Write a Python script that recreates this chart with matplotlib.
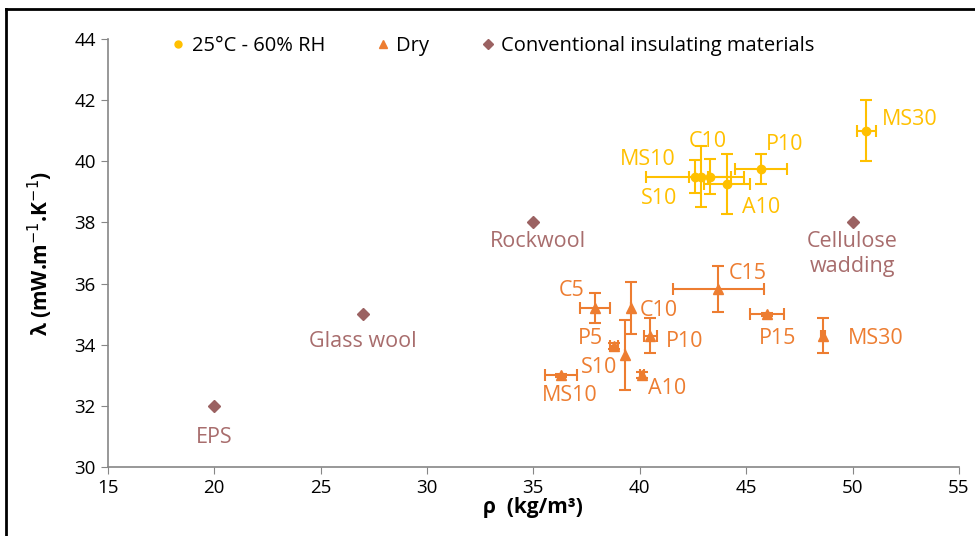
import matplotlib.pyplot as plt
from matplotlib.lines import Line2D

plt.rcParams['font.family'] = ['Open Sans', 'DejaVu Sans']

# 25°C - 60% RH
hum_names = ['MS10', 'C10', 'S10', 'A10', 'P10', 'MS30']
hum_x = [42.6, 42.9, 43.3, 44.1, 45.7, 50.65]
hum_y = [39.5, 39.5, 39.5, 39.26, 39.75, 41.0]
hum_xerr = [2.3, 0.3, 1.0, 1.1, 1.2, 0.45]
hum_yerr = [0.55, 1.0, 0.57, 0.98, 0.49, 1.0]

# Dry
dry_names = ['C5', 'C10', 'P10', 'P5', 'S10', 'MS10', 'A10', 'C15', 'P15', 'MS30']
dry_x = [37.9, 39.6, 40.5, 38.8, 39.3, 36.3, 40.1, 43.7, 46.0, 48.6]
dry_y = [35.2, 35.2, 34.3, 33.95, 33.67, 33.0, 33.0, 35.83, 35.0, 34.3]
dry_xerr = [0.7, 0.0, 0.3, 0.2, 0.0, 0.75, 0.1, 2.15, 0.8, 0.1]
dry_yerr = [0.5, 0.85, 0.58, 0.1, 1.15, 0.05, 0.1, 0.75, 0.05, 0.58]

# conventional materials
conv_names = ['EPS', 'Glass wool', 'Rockwool', 'Cellulose\nwadding']
conv_x = [20, 27, 35, 50]
conv_y = [32, 35, 38, 38]

# label positions (data coords)
hum_lab = [(40.4, 40.05), (43.2, 40.64), (40.9, 38.78), (45.7, 38.49), (46.8, 40.54), (52.7, 41.36)]
dry_lab = [(36.8, 35.78), (40.9, 35.13), (42.1, 34.12), (37.7, 34.19), (38.1, 33.24),
           (36.7, 32.33), (41.3, 32.56), (45.1, 36.34), (46.5, 34.22), (51.1, 34.22)]
conv_lab = [(20.0, 30.96), (27.0, 34.09), (35.2, 37.38), (50.0, 36.98)]

c_hum = '#FFC000'
c_dry = '#ED7D31'
c_conv = '#9B6262'
c_conv_txt = '#A86D6D'

fig = plt.figure(figsize=(9.75, 5.36), dpi=100)
ax = fig.add_axes([0.1105, 0.1287, 0.873, 0.7985])

ax.errorbar(hum_x, hum_y, xerr=hum_xerr, yerr=hum_yerr, fmt='o', color=c_hum,
            ms=6, elinewidth=1.5, capsize=4, capthick=1.5)
ax.errorbar(dry_x, dry_y, xerr=dry_xerr, yerr=dry_yerr, fmt='^', color=c_dry,
            ms=7, elinewidth=1.5, capsize=4, capthick=1.5)
ax.plot(conv_x, conv_y, 'D', color=c_conv, ms=6)

for n, (tx, ty) in zip(hum_names, hum_lab):
    ax.text(tx, ty, n, color=c_hum, fontsize=15.5, ha='center', va='center')
for n, (tx, ty) in zip(dry_names, dry_lab):
    ax.text(tx, ty, n, color=c_dry, fontsize=15.5, ha='center', va='center')
for n, (tx, ty) in zip(conv_names, conv_lab):
    ax.text(tx, ty, n, color=c_conv_txt, fontsize=15.5, ha='center', va='center', linespacing=1.25)

ax.set_xlim(15, 55)
ax.set_ylim(30, 44)
ax.set_xticks(range(15, 56, 5))
ax.set_yticks(range(30, 45, 2))
ax.tick_params(direction='out', length=5, color='#868686', labelsize=13.5)
for s in ['top', 'right']:
    ax.spines[s].set_visible(False)
for s in ['left', 'bottom']:
    ax.spines[s].set_color('#868686')
    ax.spines[s].set_linewidth(1.2)

ax.set_xlabel('ρ  (kg/m³)', fontsize=15, fontweight='bold', labelpad=0)
ax.set_ylabel('λ (mW.m$^{-1}$.K$^{-1}$)', fontsize=15, fontweight='bold', labelpad=14)

handles = [Line2D([], [], marker='o', ls='', color=c_hum, ms=5),
           Line2D([], [], marker='^', ls='', color=c_dry, ms=6),
           Line2D([], [], marker='D', ls='', color=c_conv, ms=5)]
ax.legend(handles, ['25°C - 60% RH', 'Dry', 'Conventional insulating materials'],
          loc='upper left', bbox_to_anchor=(0.05, 1.05), ncol=3, frameon=False,
          fontsize=14.5, handletextpad=0.15, columnspacing=2.4, handlelength=1.0)

# black frame of the screenshot
fig.add_artist(Line2D([0.006, 0.006], [0.0, 0.983], color='black', lw=2, transform=fig.transFigure))
fig.add_artist(Line2D([0.006, 1.0], [0.983, 0.983], color='black', lw=2, transform=fig.transFigure))

fig.savefig('out.png', dpi=100)
